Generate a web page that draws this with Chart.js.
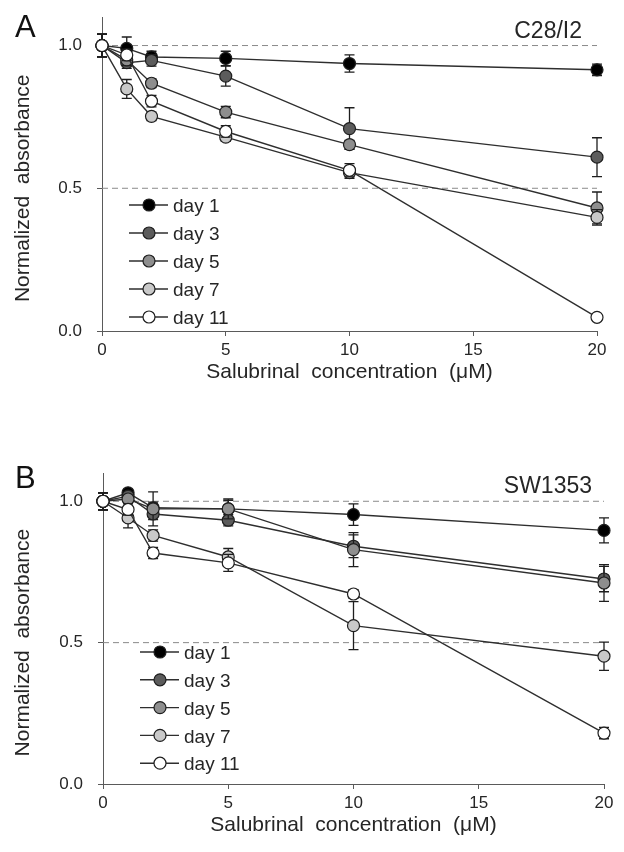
<!DOCTYPE html>
<html>
<head>
<meta charset="utf-8">
<script src="https://cdn.jsdelivr.net/npm/chart.js@4.4.1/dist/chart.umd.min.js"></script>
<style>
html,body{margin:0;padding:0;background:#fff}
#wrap{width:624px;height:852px;position:relative;overflow:hidden}
.pane{position:absolute;left:0;width:624px}
#pa{top:0;height:425px}
#pb{top:425px;height:427px}
canvas{display:block}
</style>
</head>
<body>
<div id="wrap">
  <div class="pane" id="pa"><canvas id="chartA" width="624" height="425"></canvas></div>
  <div class="pane" id="pb"><canvas id="chartB" width="624" height="427"></canvas></div>
</div>
<script>
// ── shared categories / ticks ────────────────────────────────────────────────
const CONC      = [0,1,2,5,10,20];            // salubrinal, µM
const DAYS      = ['day 1','day 3','day 5','day 7','day 11'];
const FILLS     = ['#000000','#5c5c5c','#8e8e8e','#c9c9c9','#ffffff'];
const X_TICKS   = [0,5,10,15,20];
const Y_TICKS   = [0,0.5,1.0];
const REF_LINES = [0.5,1.0];
const X_TITLE   = 'Salubrinal  concentration  (\u03bcM)';
const Y_TITLE   = 'Normalized  absorbance';

// ── panel A: C28/I2 (mean, error) ───────────────────────────────────────────
const A_DAY1  = [1.00,0.990,0.960,0.955,0.937,0.915];
const A_DAY3  = [1.00,0.940,0.948,0.893,0.709,0.609];
const A_DAY5  = [1.00,0.950,0.868,0.767,0.653,0.431];
const A_DAY7  = [1.00,0.848,0.752,0.679,0.555,0.398];
const A_DAY11 = [1.00,0.967,0.805,0.699,0.563,0.048];
const A_ERR1  = [0.04,0.040,0.020,0.025,0.030,0.020];
const A_ERR3  = [0.04,0.020,0.020,0.035,0.073,0.068];
const A_ERR5  = [0.04,0.020,0.015,0.020,0.015,0.056];
const A_ERR7  = [0.04,0.033,0.015,0.015,0.020,0.027];
const A_ERR11 = [0.04,0.020,0.020,0.020,0.023,0.010];

// ── panel B: SW1353 (mean, error) ───────────────────────────────────────────
const B_DAY1  = [1.00,1.030,0.977,0.973,0.953,0.897];
const B_DAY3  = [1.00,1.018,0.955,0.933,0.841,0.725];
const B_DAY5  = [1.00,1.008,0.973,0.973,0.829,0.711];
const B_DAY7  = [1.00,0.941,0.879,0.803,0.560,0.452];
const B_DAY11 = [1.00,0.971,0.817,0.782,0.672,0.180];
const B_ERR1  = [0.03,0.010,0.020,0.030,0.038,0.044];
const B_ERR3  = [0.03,0.010,0.020,0.020,0.040,0.045];
const B_ERR5  = [0.03,0.010,0.060,0.035,0.060,0.065];
const B_ERR7  = [0.03,0.035,0.020,0.030,0.085,0.050];
const B_ERR11 = [0.03,0.020,0.020,0.030,0.015,0.020];

const FONT = '"Liberation Sans", Arial, Helvetica, sans-serif';
const TXT  = '#262626';
const AXIS = '#5a5a5a';
const LINE = '#2e2e2e';
Chart.defaults.font.family = FONT;

// ── error bars: drawn just before each dataset so its own markers sit on top ─
const errorBars = {id:'errorBars',
  beforeDatasetDraw(chart,args){
    const ds = chart.data.datasets[args.index];
    if(!ds.err) return;
    const ys = chart.scales.y, ctx = chart.ctx;
    ctx.save();
    ctx.strokeStyle = '#1e1e1e'; ctx.lineWidth = 1.3;
    args.meta.data.forEach((pt,j)=>{
      const e = ds.err[j]; if(!e) return;
      const v = ds.data[j].y;
      const t = ys.getPixelForValue(v+e), b = ys.getPixelForValue(v-e);
      ctx.beginPath();
      ctx.moveTo(pt.x,t); ctx.lineTo(pt.x,b);
      ctx.moveTo(pt.x-5,t); ctx.lineTo(pt.x+5,t);
      ctx.moveTo(pt.x-5,b); ctx.lineTo(pt.x+5,b);
      ctx.stroke();
    });
    ctx.restore();
  }};

// ── legend inside the plot (line + marker + label) ──────────────────────────
const inLegend = {id:'inLegend',
  afterDatasetsDraw(chart,args,o){
    const {ctx, chartArea:ca} = chart;
    ctx.save();
    chart.data.datasets.filter(d=>!d.isRef).forEach((d,i)=>{
      const y = ca.top+o.top+i*o.gap, x0 = ca.left+o.left;
      ctx.strokeStyle = LINE; ctx.lineWidth = 1.4;
      ctx.beginPath(); ctx.moveTo(x0,y); ctx.lineTo(x0+39,y); ctx.stroke();
      ctx.beginPath(); ctx.arc(x0+20,y,6,0,Math.PI*2);
      ctx.fillStyle = d.pointBackgroundColor; ctx.fill();
      ctx.strokeStyle = '#1e1e1e'; ctx.lineWidth = 1.2; ctx.stroke();
      ctx.fillStyle = TXT; ctx.font = '19px '+FONT;
      ctx.textAlign = 'left'; ctx.textBaseline = 'middle';
      ctx.fillText(d.label, x0+44, y+2);
    });
    ctx.restore();
  }};

// ── panel letter, cell line name, y title centred on the 0–1 span ───────────
const panelText = {id:'panelText',
  afterDraw(chart,args,o){
    const ctx = chart.ctx, ys = chart.scales.y;
    ctx.save();
    ctx.fillStyle = '#111'; ctx.textBaseline = 'alphabetic';
    ctx.font = '31px '+FONT; ctx.textAlign = 'left';
    ctx.fillText(o.letter, o.lx, o.ly);
    ctx.fillStyle = TXT; ctx.font = '23px '+FONT; ctx.textAlign = 'right';
    ctx.fillText(o.name, o.nx, o.ny);
    const cy = (ys.getPixelForValue(Y_TICKS[0])+ys.getPixelForValue(Y_TICKS[Y_TICKS.length-1]))/2;
    ctx.translate(o.tx, cy); ctx.rotate(-Math.PI/2);
    ctx.font = '21px '+FONT; ctx.textAlign = 'center'; ctx.textBaseline = 'middle';
    ctx.fillText(Y_TITLE, 0, 0);
    ctx.restore();
  }};

function buildSets(vals, errs){
  const sets = DAYS.map((d,i)=>({
    label:d,
    data:CONC.map((x,j)=>({x, y:vals[i][j]})),
    err:errs[i],
    borderColor:LINE, borderWidth:1.4, tension:0, fill:false,
    backgroundColor:FILLS[i], pointBackgroundColor:FILLS[i],
    pointBorderColor:'#1e1e1e', pointBorderWidth:1.2,
    pointRadius:6, pointHoverRadius:6, clip:false,
    order:DAYS.length-i
  }));
  REF_LINES.forEach(v=>sets.push({
    label:'ref', isRef:true, data:[{x:X_TICKS[0],y:v},{x:X_TICKS[X_TICKS.length-1],y:v}],
    borderColor:'#8a8a8a', borderWidth:1, borderDash:[6,4], pointRadius:0, fill:false, order:99
  }));
  return sets;
}

function makeChart(el, sets, lay){
  return new Chart(el,{
    type:'line',
    data:{datasets:sets},
    plugins:[errorBars, inLegend, panelText],
    options:{
      responsive:false, animation:false, events:[],
      layout:{padding:{left:0, top:lay.top, right:lay.right, bottom:0}},
      plugins:{
        legend:{display:false}, tooltip:{enabled:false},
        inLegend:lay.legend, panelText:lay.text
      },
      scales:{
        x:{type:'linear', min:0, max:20,
          afterBuildTicks:s=>{ s.ticks = X_TICKS.map(v=>({value:v})); },
          afterFit:s=>{ s.height = lay.xh; s.paddingLeft = 0; s.paddingRight = 0; },
          grid:{display:true, drawOnChartArea:false, drawTicks:true, tickLength:5, color:AXIS, lineWidth:1},
          border:{display:true, color:AXIS, width:1},
          ticks:{color:TXT, font:{size:17}, padding:4, maxRotation:0, minRotation:0, callback:v=>String(v)},
          title:{display:true, text:X_TITLE, color:TXT, font:{size:21}, padding:{top:0, bottom:lay.xtb}}
        },
        y:{type:'linear', min:0, max:1.1,
          afterBuildTicks:s=>{ s.ticks = Y_TICKS.map(v=>({value:v})); },
          afterFit:s=>{ s.width = lay.yw; s.paddingTop = 0; s.paddingBottom = 0; },
          grid:{display:true, drawOnChartArea:false, drawTicks:true, tickLength:5, color:AXIS, lineWidth:1},
          border:{display:true, color:AXIS, width:1},
          ticks:{color:TXT, font:{size:17}, padding:15, callback:v=>v.toFixed(1)},
          title:{display:false}
        }
      }
    }
  });
}

makeChart(document.getElementById('chartA'),
  buildSets([A_DAY1,A_DAY3,A_DAY5,A_DAY7,A_DAY11],[A_ERR1,A_ERR3,A_ERR5,A_ERR7,A_ERR11]),
  {top:17, right:27, yw:102, xh:94, xtb:40,
   legend:{left:27, top:188, gap:28},
   text:{letter:'A', lx:15, ly:37, name:'C28/I2', nx:582, ny:38, tx:23}});

makeChart(document.getElementById('chartB'),
  buildSets([B_DAY1,B_DAY3,B_DAY5,B_DAY7,B_DAY11],[B_ERR1,B_ERR3,B_ERR5,B_ERR7,B_ERR11]),
  {top:48, right:20, yw:103, xh:68, xtb:14,
   legend:{left:37, top:179, gap:27.8},
   text:{letter:'B', lx:15, ly:63, name:'SW1353', nx:592, ny:68, tx:23}});
</script>
</body>
</html>
